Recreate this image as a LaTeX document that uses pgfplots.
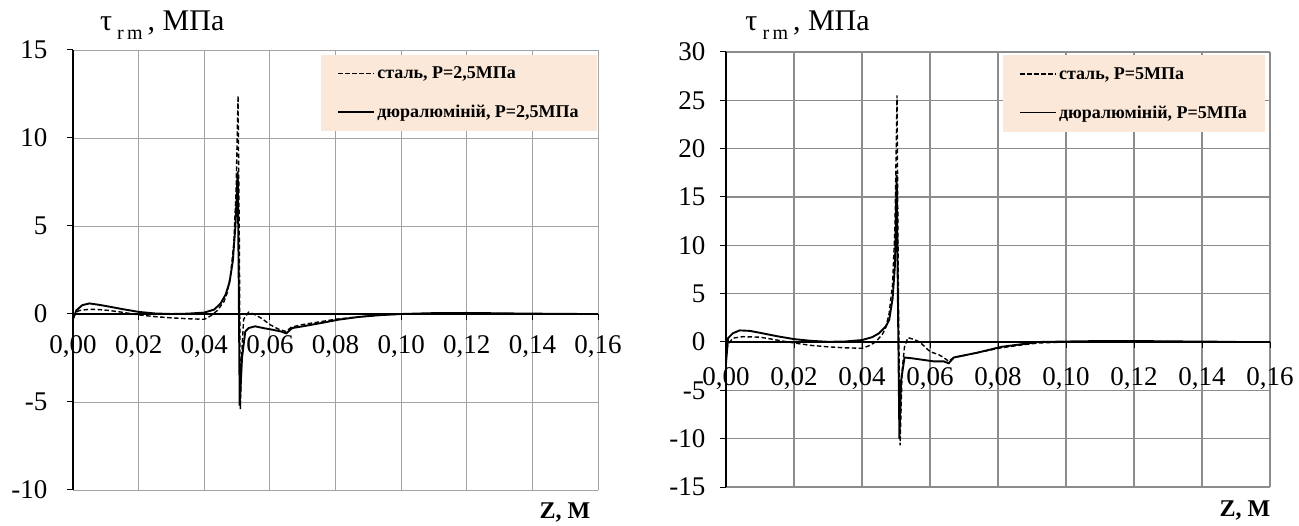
\documentclass[border=0pt]{standalone}
\usepackage{pgfplots}
\pgfplotsset{compat=1.18}
\usepackage{fontspec}
\setmainfont{Liberation Serif}
\definecolor{peach}{HTML}{FCE8D8}
\definecolor{gridgray}{HTML}{8C8C8C}
\pgfplotsset{
  common/.style={
    scale only axis,
    axis x line=middle,
    axis y line=left,
    hide obscured x ticks=false,
    hide obscured y ticks=false,
    axis line style={-, black, line width=1.6pt},
    xmin=0, xmax=0.16,
    xtick={0,0.02,0.04,0.06,0.08,0.10,0.12,0.14,0.16},
    xticklabels={{0,00},{0,02},{0,04},{0,06},{0,08},{0,10},{0,12},{0,14},{0,16}},
    tick align=outside,
    major tick length=6pt,
    tick style={black, line width=1pt},
    grid=major,
    major grid style={gridgray, line width=1.2pt},
    ticklabel style={font=\fontsize{27}{31}\selectfont},
    clip=false,
    legend cell align=left,
    legend image code/.code={\draw[##1] (0pt,0pt) -- (36pt,0pt);},
    legend style={fill=peach, draw=none, font=\bfseries\fontsize{18}{21}\selectfont,
      inner xsep=16pt, inner ysep=10pt, row sep=21pt, anchor=north east},
  },
  steel/.style={black, line width=1.4pt, dash pattern=on 4.5pt off 2.5pt},
  dural/.style={black, line width=1.9pt},
}
\begin{document}
\begin{tikzpicture}[x=1pt,y=1pt]
\useasboundingbox (0,0) rectangle (1299,525);
% ---------------- left chart
\begin{axis}[common,
  at={(73pt,35pt)}, anchor=south west,
  width=525pt, height=440pt,
  ymin=-10, ymax=15,
  ytick={-10,-5,0,5,10,15},
  yticklabels={-10,-5,0,5,10,15},
  major grid style={gridgray!80, line width=0.9pt},
  xticklabel style={yshift=-12pt},
  yticklabel style={xshift=-16pt},
  legend style={at={(rel axis cs:0.998,0.989)}},
]
\addplot[steel] coordinates {
(0,-0.2) (0.001,0.1) (0.002,0.2) (0.005,0.27) (0.008,0.25) (0.011,0.2) (0.015,0.1)
(0.02,-0.05) (0.025,-0.15) (0.03,-0.22) (0.035,-0.27) (0.04,-0.3) (0.042,-0.1)
(0.044,0.2) (0.046,0.7) (0.047,1.2) (0.048,2.2) (0.049,4) (0.0497,7) (0.0503,12.4)
(0.0507,4) (0.051,-5.4) (0.0515,-2) (0.052,-0.3) (0.0535,0.1) (0.055,0.0)
(0.0575,-0.25) (0.06,-0.6) (0.0625,-0.85) (0.065,-1.0) (0.0665,-0.75) (0.07,-0.6)
(0.075,-0.45) (0.08,-0.3) (0.085,-0.2) (0.09,-0.12) (0.095,-0.05) (0.1,0)
(0.11,0.03) (0.12,0.03) (0.13,0.02) (0.14,0.01) (0.15,0.0) (0.155,0)
};
\addlegendentry{сталь, Р=2,5МПа}
\addplot[dural] coordinates {
(0,-0.3) (0.001,0.2) (0.0028,0.5) (0.005,0.6) (0.008,0.52) (0.011,0.42) (0.015,0.28)
(0.02,0.12) (0.025,0.03) (0.03,0.0) (0.035,0.02) (0.04,0.08) (0.043,0.25) (0.045,0.6)
(0.0465,1.1) (0.0477,1.8) (0.0487,3) (0.0495,5) (0.0502,8.1) (0.0505,2) (0.0508,-5.2)
(0.0515,-2.5) (0.0525,-1.0) (0.0535,-0.8) (0.0555,-0.7) (0.058,-0.8) (0.061,-0.9)
(0.0635,-1.0) (0.065,-1.1) (0.0668,-0.8) (0.07,-0.7) (0.076,-0.5) (0.081,-0.32)
(0.087,-0.17) (0.093,-0.07) (0.1,0.0) (0.11,0.05) (0.12,0.06) (0.13,0.04)
(0.14,0.02) (0.15,0.01) (0.155,0)
};
\addlegendentry{дюралюміній, Р=2,5МПа}
\node[font=\fontsize{30}{34}\selectfont] at (rel axis cs:0.17,1.057)
  {τ\,\raisebox{-0.3em}{\fontsize{20}{22}\selectfont r\,m}\,, МПа};
\node[font=\bfseries\fontsize{24}{28}\selectfont] at (rel axis cs:0.937,-0.05) {Z, М};
\end{axis}
% ---------------- right chart
\begin{axis}[common,
  at={(726pt,38pt)}, anchor=south west,
  width=544pt, height=435pt,
  ymin=-15, ymax=30,
  ytick={-15,-10,-5,0,5,10,15,20,25,30},
  yticklabels={-15,-10,-5,0,5,10,15,20,25,30},
  xticklabel style={yshift=-16pt},
  yticklabel style={xshift=-11pt},
  legend style={at={(rel axis cs:0.991,0.993)}},
]
\addplot[steel] coordinates {
(0,-1.5) (0.0005,-0.3) (0.002,0.4) (0.005,0.55) (0.01,0.5) (0.015,0.2) (0.02,-0.1)
(0.025,-0.35) (0.03,-0.5) (0.035,-0.6) (0.04,-0.65) (0.042,-0.4) (0.044,0.0)
(0.046,0.8) (0.047,1.5) (0.048,3) (0.049,6) (0.0497,12) (0.0503,25.5) (0.0507,5)
(0.0512,-10.7) (0.0518,-3) (0.0525,-0.5) (0.0535,0.45) (0.055,0.3) (0.057,0.0)
(0.06,-1.0) (0.0625,-1.3) (0.064,-1.6) (0.0655,-2.0) (0.067,-1.6) (0.07,-1.4)
(0.074,-1.1) (0.081,-0.6) (0.087,-0.3) (0.092,-0.1) (0.1,0.0) (0.11,0.05)
(0.12,0.05) (0.13,0.04) (0.14,0.02) (0.15,0.01)
};
\addlegendentry{сталь, Р=5МПа}
\addplot[dural] coordinates {
(0,-2.2) (0.0006,0.4) (0.002,0.9) (0.004,1.2) (0.007,1.15) (0.01,0.95) (0.015,0.6)
(0.02,0.3) (0.025,0.12) (0.03,0.02) (0.035,0.05) (0.04,0.2) (0.043,0.5) (0.045,0.9)
(0.047,1.6) (0.048,2.3) (0.049,4.5) (0.0497,8) (0.0502,17.3) (0.0506,3) (0.051,-10)
(0.0515,-4) (0.0525,-1.6) (0.055,-1.7) (0.057,-1.8) (0.061,-2.0) (0.064,-2.0)
(0.0655,-2.2) (0.067,-1.6) (0.074,-1.1) (0.081,-0.5) (0.092,0.0) (0.1,0.05)
(0.11,0.1) (0.12,0.1) (0.13,0.07) (0.14,0.04) (0.15,0.02)
};
\addlegendentry{дюралюміній, Р=5МПа}
\node[font=\fontsize{30}{34}\selectfont] at (rel axis cs:0.15,1.062)
  {τ\,\raisebox{-0.3em}{\fontsize{20}{22}\selectfont r\,m}\,, МПа};
\node[font=\bfseries\fontsize{24}{28}\selectfont] at (rel axis cs:0.954,-0.053) {Z, М};
\end{axis}
\end{tikzpicture}
\end{document}
